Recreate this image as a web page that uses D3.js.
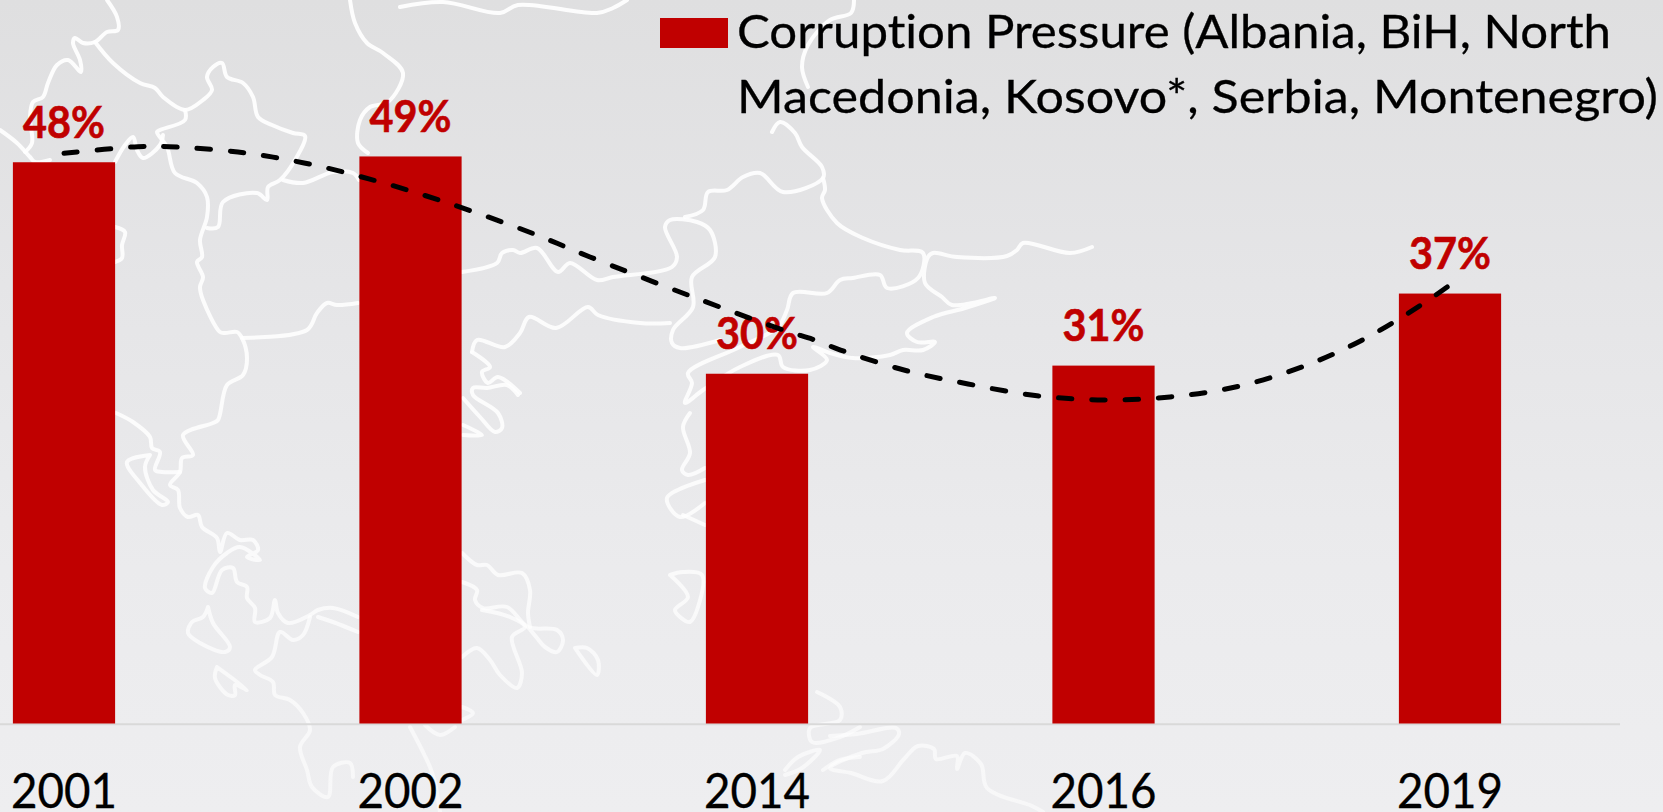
<!DOCTYPE html>
<html>
<head>
<meta charset="utf-8">
<script src="https://cdn.jsdelivr.net/npm/d3@7"></script>
<style>
html,body{margin:0;padding:0;background:#e8e8ea;overflow:hidden}
svg{display:block}
text{font-family:Lato,"Open Sans",sans-serif;font-variant-ligatures:none;font-feature-settings:"liga" 0}
</style>
</head>
<body>
<svg id="chart" width="1663" height="812"></svg>
<script>
const categories = ["2001","2002","2014","2016","2019"];
const values = [48.3,48.8,30.1,30.8,37.0];
const valueLabels = ["48%","49%","30%","31%","37%"];
const legendLines = ["Corruption Pressure (Albania, BiH, North","Macedonia, Kosovo*, Serbia, Montenegro)"];
const trendPositions = [0,0.213,0.303,0.502,0.693,0.885,1.082,1.342,1.518,1.8,2.075,2.167,2.241,2.424,2.609,2.808,3,3.192,3.384,3.567,3.743,3.913,4];
const trendValues = [49.07,49.64,49.64,49.18,48.24,46.83,45.05,42.3,40.15,36.88,33.87,33.0,32.14,30.42,29.22,28.21,27.84,28.1,28.98,30.62,32.94,35.95,37.74];

// decorative backdrop: traced outline of the map behind the chart
const mapOutline = [
 [[107,0],[117,17],[118,30],[107,32],[95,42],[83,43],[75,38],[73,43],[80,60],[81,72],[68,60],[57,65],[48,83],[43,97],[33,102],[30,118],[32,143],[25,152]],
 [[0,130],[17,143],[30,157],[35,162],[50,160]],
 [[95,42],[113,63],[140,83],[155,88],[163,97],[185,110],[203,100],[212,90],[207,77],[213,67],[222,63],[227,77],[243,83],[253,97],[258,117],[272,125],[293,133],[305,136],[295,160],[280,180],[268,187],[267,200],[257,193],[223,202],[218,227],[207,228]],
 [[185,110],[185,120],[160,130],[157,132],[167,147],[175,173],[197,183],[207,197],[207,217],[200,240],[202,257],[197,262],[203,277],[200,287],[203,300],[220,332],[225,333],[237,332],[242,338],[247,358],[243,375],[227,385],[218,420],[213,423],[183,435],[193,455],[182,458],[180,472],[170,485],[178,490],[180,508],[188,517],[198,515],[202,527],[217,538],[220,552],[227,533],[240,540],[253,540],[258,550],[247,557],[260,560],[240,547],[227,553],[213,567],[205,588],[212,593],[222,570],[233,568],[237,582],[247,587],[247,598],[255,608],[255,622],[270,618],[275,600],[278,613],[288,623],[310,615],[318,610],[333,608],[358,617]],
 [[116,413],[133,422],[150,437],[152,448],[160,452],[155,470],[162,472],[180,472]],
 [[150,455],[127,462],[140,483],[162,505],[168,502],[153,490],[145,467],[150,455]],
 [[310,617],[303,635],[293,640],[280,632],[272,657],[255,670],[260,675],[273,682],[275,695],[290,700],[303,713],[310,730],[300,747],[307,770],[312,787],[328,797],[333,767],[350,763],[353,777]],
 [[318,617],[333,622],[358,632]],
 [[208,607],[213,623],[230,647],[225,652],[200,643],[188,633],[192,622],[203,617],[208,607]],
 [[217,667],[215,678],[228,695],[235,695],[235,685],[247,690],[217,667]],
 [[410,727],[422,750],[430,767],[435,783],[440,812]],
 [[463,398],[480,417],[495,432],[502,428],[498,413],[473,395],[473,388],[487,388],[507,385],[518,395]],
 [[472,352],[477,340],[505,347],[520,333],[529,317],[556,328],[588,307],[598,315],[640,323],[670,323]],
 [[472,352],[490,367],[482,372],[488,383],[498,377],[520,393]],
 [[463,425],[482,435],[463,435]],
 [[400,7],[443,2],[500,13],[518,5],[597,13],[613,8],[627,0]],
 [[350,0],[355,23],[367,43],[383,53],[403,73],[388,102],[370,107],[360,120],[358,143],[368,153]],
 [[283,180],[303,183],[333,172],[353,173],[359,180]],
 [[115,162],[125,145],[133,137],[137,150],[143,158],[160,145],[163,135]],
 [[115,227],[125,232],[122,245],[122,258],[115,262]],
 [[242,338],[307,330],[317,313],[327,303],[337,305],[358,303]],
 [[462,272],[497,263],[502,253],[513,250],[520,253],[537,248],[558,272],[570,263],[597,280],[613,277],[672,267],[677,257],[665,227],[670,220],[697,222],[710,230],[715,257],[692,277],[693,307],[673,330],[672,343],[680,348],[720,340]],
 [[685,217],[703,210],[708,192],[727,190],[743,177],[760,173],[783,192],[823,178],[822,167],[802,147],[795,133],[780,122],[772,132]],
 [[854,0],[851,13],[830,20],[808,45],[802,67],[808,87]],
 [[823,178],[825,190],[822,198],[837,223],[863,238],[900,250],[923,253],[918,278],[887,288],[880,275],[853,278],[840,280],[827,293],[793,293],[787,310],[778,327],[740,347],[688,373],[692,383],[685,403],[703,390],[740,367],[778,355],[783,367],[810,370],[827,360],[813,347],[830,353],[853,358],[890,355],[903,350],[923,350],[935,342],[917,342],[907,333],[933,317],[965,308],[995,298],[952,305],[942,297],[925,283],[928,257],[933,253],[957,257],[1007,256],[1017,250],[1023,243],[1070,253],[1092,247]],
 [[690,413],[683,427],[690,453],[682,470],[688,475],[705,468]],
 [[705,480],[667,498],[680,517],[705,503]],
 [[705,525],[683,515]],
 [[670,575],[683,572],[702,575],[698,607],[690,622],[680,617],[675,610],[688,597],[670,575]],
 [[462,553],[477,565],[487,565],[498,575],[522,573],[530,590],[528,613],[530,627]],
 [[462,582],[477,590],[475,600],[483,608],[507,607],[528,627],[557,630],[563,640],[557,652],[545,647],[537,638],[528,627]],
 [[482,610],[510,617],[525,627],[512,637],[522,673],[517,688],[500,675],[490,660],[477,648],[462,657]],
 [[575,648],[587,648],[598,660],[597,675],[575,648]],
 [[462,707],[473,713],[462,720]],
 [[425,725],[440,735],[455,727]],
 [[817,692],[840,707],[840,720],[810,728],[812,742],[840,737],[860,727]],
 [[785,770],[798,757],[820,750],[802,768],[785,775]],
 [[823,770],[840,760],[860,757]],
 [[830,736],[857,734],[896,728],[899,734],[883,749],[862,753],[830,768],[851,773],[883,781],[904,759],[918,746],[934,749],[936,759],[957,756],[957,769],[965,753],[981,764],[987,788],[1032,806],[1043,812]]
];

const W = 1663, H = 812, baseY = 723.5, pxPerUnit = 11.62, yMax = 62;
const svg = d3.select("#chart");

const defs = svg.append("defs");
const bgGrad = defs.append("linearGradient").attr("id","bg").attr("x1",0).attr("y1",0).attr("x2",0).attr("y2",1);
[[0,"#dfdfe0"],[0.35,"#e5e5e7"],[0.7,"#ebebed"],[1,"#eeeef0"]].forEach(s=>bgGrad.append("stop").attr("offset",s[0]).attr("stop-color",s[1]));
defs.append("filter").attr("id","soft").append("feGaussianBlur").attr("stdDeviation",0.7);
const mapGrad = defs.append("linearGradient").attr("id","mapFade").attr("gradientUnits","userSpaceOnUse")
  .attr("x1",0).attr("y1",0).attr("x2",0).attr("y2",H);
[[0,0.95],[0.55,0.85],[1,0.55]].forEach(s=>mapGrad.append("stop").attr("offset",s[0]).attr("stop-color","#fff").attr("stop-opacity",s[1]));

svg.append("rect").attr("width",W).attr("height",H).attr("fill","url(#bg)");

const mapLine = d3.line().curve(d3.curveCatmullRom.alpha(0.5));
svg.append("g").attr("fill","none").attr("stroke","url(#mapFade)").attr("stroke-width",4)
  .attr("stroke-linejoin","round").attr("stroke-linecap","round")
  .attr("filter","url(#soft)")
  .selectAll("path").data(mapOutline).join("path").attr("d",mapLine);

const x = d3.scaleBand().domain(categories).range([-109.25,1623.25]).paddingInner(0.705).paddingOuter(0.3525);
const y = d3.scaleLinear().domain([0,yMax]).range([baseY, baseY - yMax*pxPerUnit]);
const center = c => x(c) + x.bandwidth()/2;
const trendX = d3.scaleLinear().domain([0,categories.length-1]).range([center(categories[0]),center(categories[categories.length-1])]);

// axis
const axis = svg.append("g").attr("transform",`translate(0,${baseY+0.8})`)
  .call(d3.axisBottom(x).tickSize(0).tickPadding(54));
axis.select(".domain").attr("stroke","#d9d9d9").attr("stroke-width",2).attr("d","M0,0H1620");
axis.selectAll(".tick text").attr("font-family","Lato").attr("font-size",48).attr("fill","#000")
  .attr("text-anchor","middle").attr("dy",null)
  .attr("y",84).attr("textLength",106).attr("lengthAdjust","spacingAndGlyphs")
  .attr("stroke","#000").attr("stroke-width",0.3);

// bars
svg.append("g").selectAll("rect").data(categories).join("rect")
  .attr("x",d=>x(d)).attr("width",x.bandwidth())
  .attr("y",(d,i)=>y(values[i])).attr("height",(d,i)=>y(0)-y(values[i]))
  .attr("fill","#C00000");

// value labels
svg.append("g").selectAll("text").data(categories).join("text")
  .attr("x",d=>center(d)).attr("y",(d,i)=>y(values[i])-24.7)
  .attr("text-anchor","middle").attr("font-weight",700).attr("font-size",43)
  .attr("fill","#C00000").attr("stroke","#C00000").attr("stroke-width",0.6)
  .attr("textLength",82).attr("lengthAdjust","spacingAndGlyphs")
  .text((d,i)=>valueLabels[i]);

// trend
const trendLine = d3.line().x(d=>trendX(d[0])).y(d=>y(d[1])).curve(d3.curveCatmullRom.alpha(0.5));
svg.append("path").datum(trendPositions.map((p,i)=>[p,trendValues[i]]))
  .attr("d",trendLine).attr("fill","none").attr("stroke","#000").attr("stroke-width",5)
  .attr("stroke-linecap","round").attr("stroke-dasharray","13.5 19.85");

// legend
const legend = svg.append("g");
legend.append("rect").attr("x",660).attr("y",18).attr("width",68).attr("height",30).attr("fill","#C00000");
const legendWidths = [874,921];
legend.selectAll("text").data(legendLines).join("text")
  .attr("x",737).attr("y",(d,i)=>47.5+i*65.5).attr("font-size",47).attr("fill","#000")
  .attr("stroke","#000").attr("stroke-width",0.3)
  .attr("textLength",(d,i)=>legendWidths[i]).attr("lengthAdjust","spacingAndGlyphs")
  .text(d=>d);
</script>
</body>
</html>
